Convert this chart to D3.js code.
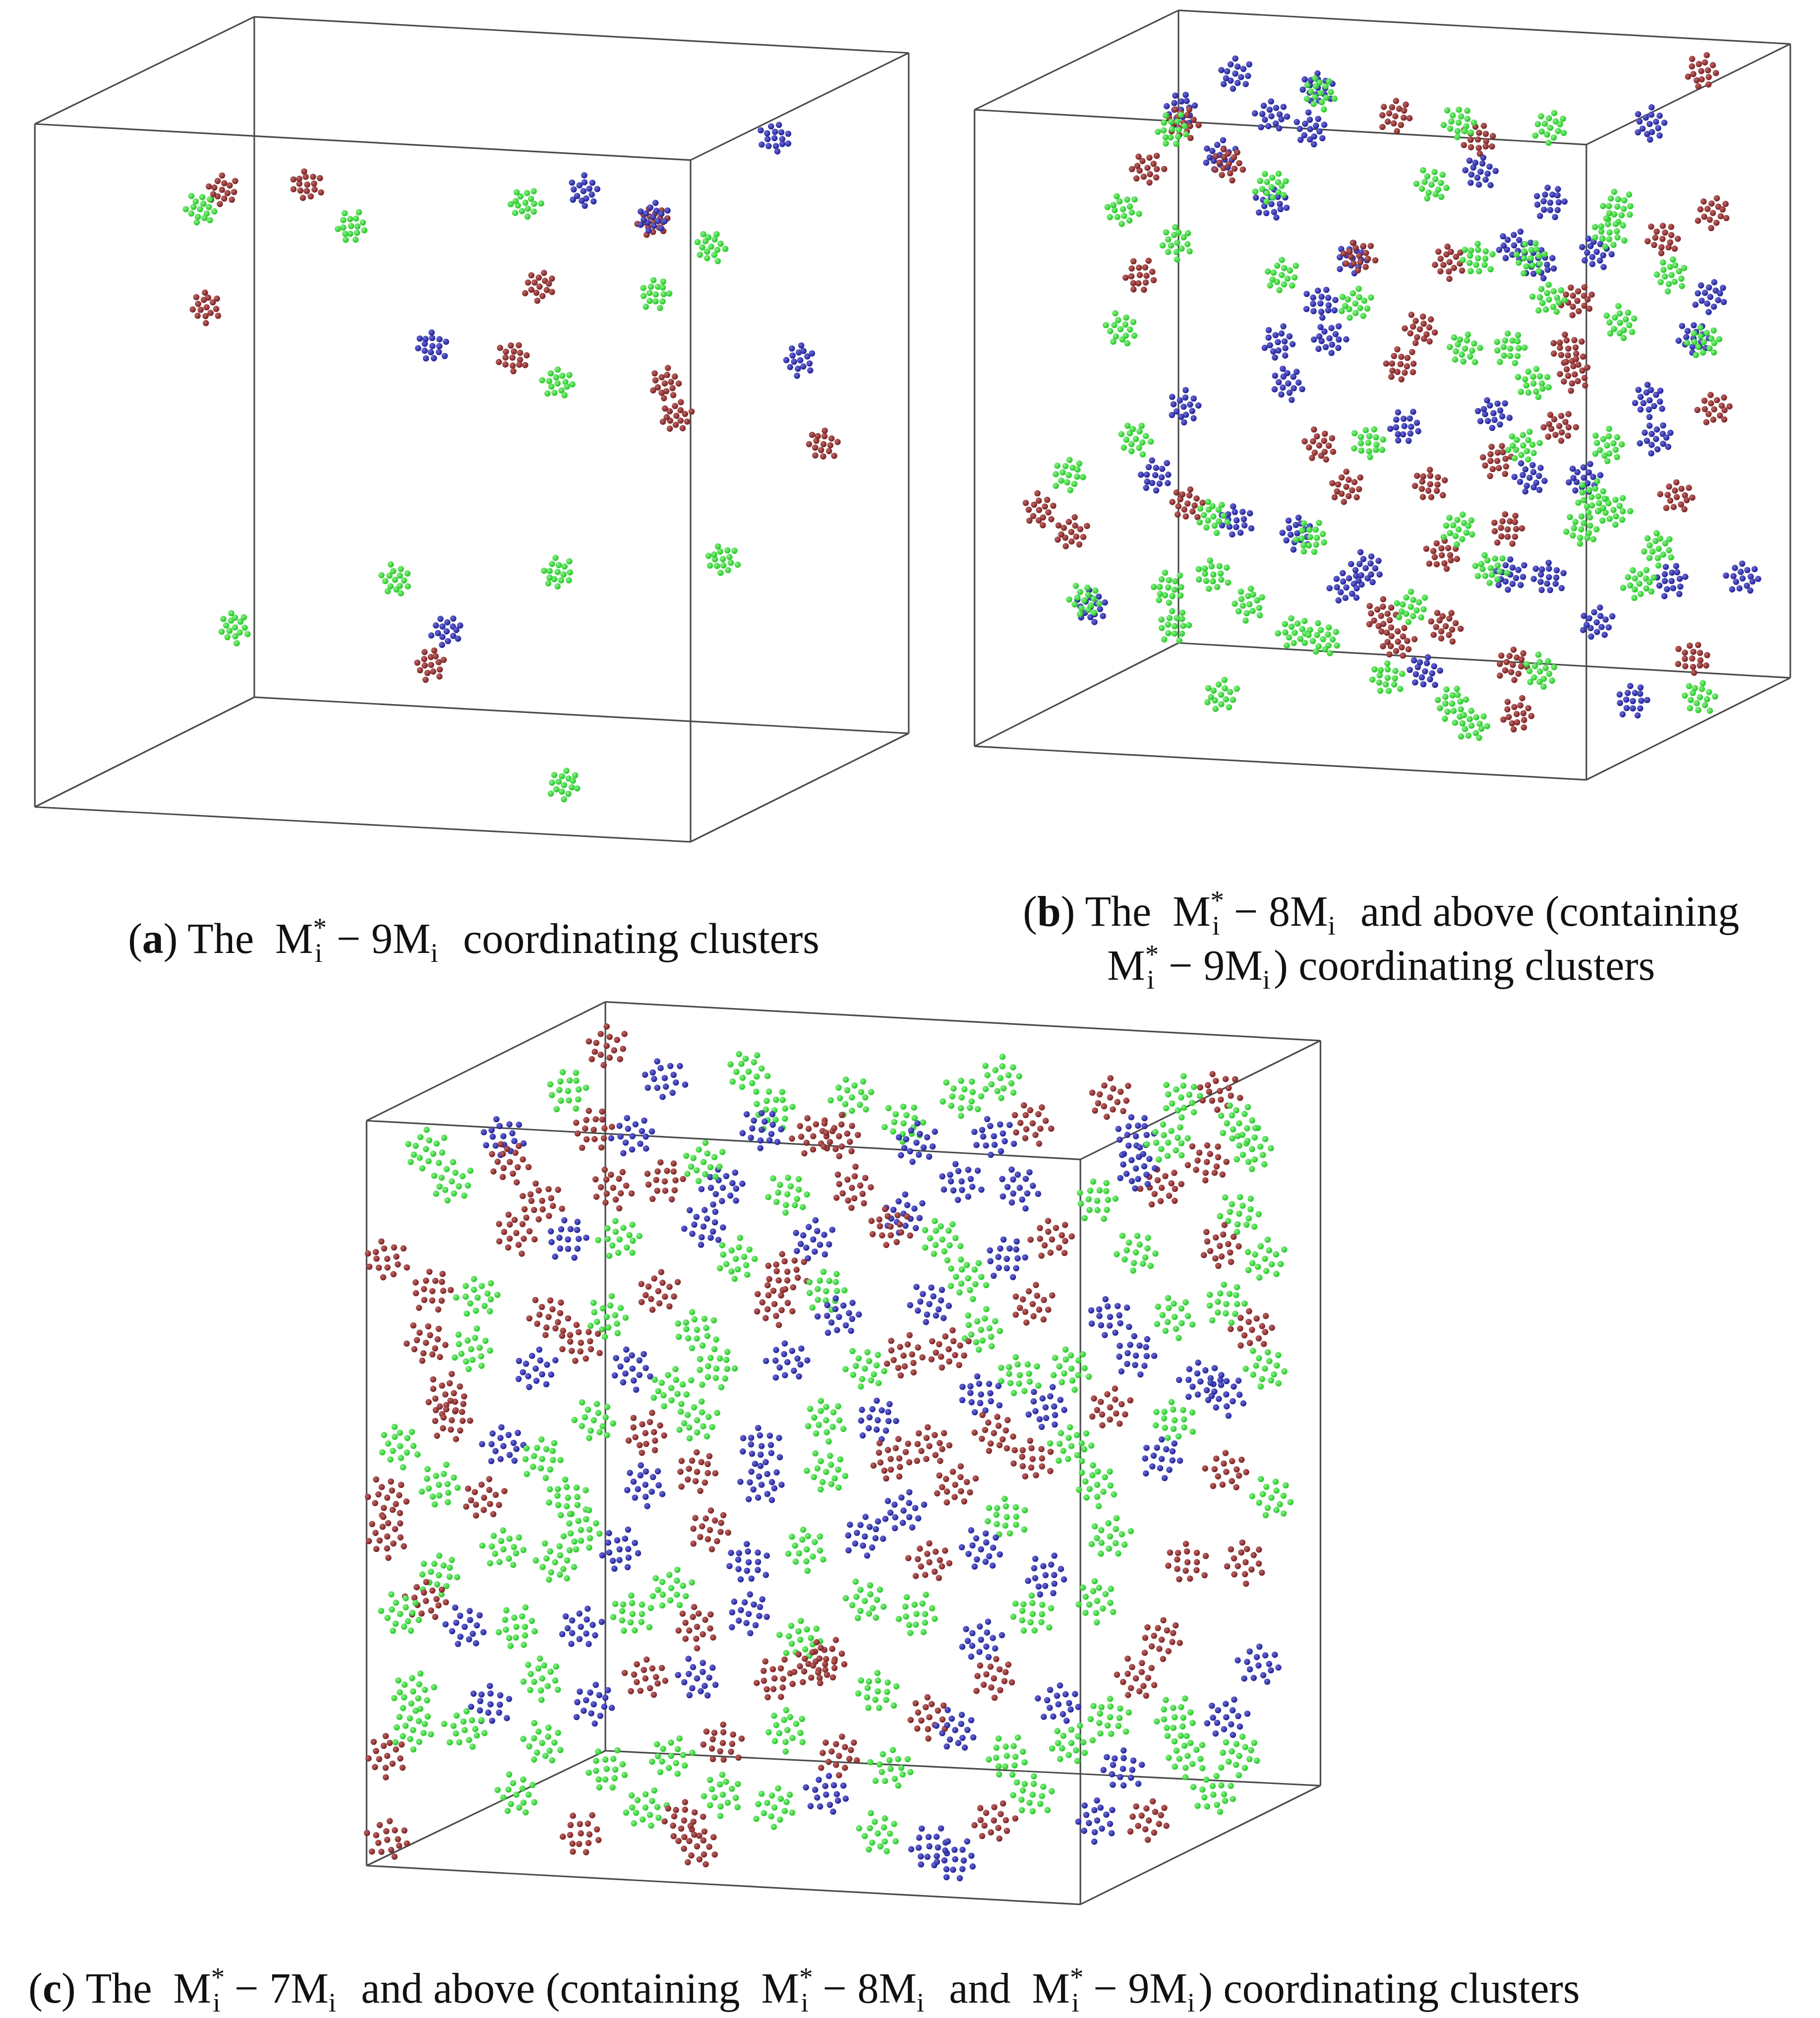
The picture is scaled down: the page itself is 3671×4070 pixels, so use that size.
<!DOCTYPE html>
<html>
<head>
<meta charset="utf-8">
<script src="https://cdn.jsdelivr.net/npm/d3@7"></script>
<style>
  body { margin: 0; background: #fff; }
  text { font-family: "Liberation Serif", "DejaVu Serif", serif; fill: #111; white-space: pre; }
</style>
</head>
<body>
<svg id="main" width="3671" height="4070"></svg>
<script>
// cluster centres (x, y in reference px, colour code)
var clustersA = [
  [172,147,'r'],[238,143,'r'],[160,238,'r'],[418,222,'r'],[397,277,'r'],[515,297,'r'],[524,322,'r'],[638,344,'r'],[334,515,'r'],[506,172,'r'],
  [155,162,'g'],[272,175,'g'],[407,157,'g'],[551,191,'g'],[508,228,'g'],[432,297,'g'],[306,449,'g'],[432,443,'g'],[560,433,'g'],[182,486,'g'],[437,608,'g'],
  [600,107,'b'],[452,148,'b'],[506,168,'b'],[335,268,'b'],[620,279,'b'],[346,489,'b']
];
var clustersB = [
  [957,57,'b'],[1021,68,'b'],[915,85,'b'],[985,90,'b'],[1015,100,'b'],[945,120,'b'],[1147,133,'b'],[1201,157,'b'],[985,158,'b'],[1278,96,'b'],
  [1173,190,'b'],[1237,195,'b'],[1048,200,'b'],[1023,235,'b'],[990,265,'b'],[1030,262,'b'],[998,297,'b'],[1325,230,'b'],[1312,262,'b'],[1088,330,'b'],
  [1157,320,'b'],[1278,310,'b'],[1283,340,'b'],[1185,370,'b'],[895,368,'b'],[958,403,'b'],[1005,413,'b'],[1043,455,'b'],[1058,440,'b'],[1170,445,'b'],
  [1200,447,'b'],[1295,450,'b'],[1350,448,'b'],[845,470,'b'],[1237,482,'b'],[1104,520,'b'],[1265,543,'b'],[1192,205,'b'],[917,315,'b'],[1227,370,'b'],
  [917,95,'r'],[1081,90,'r'],[1145,108,'r'],[1318,55,'r'],[889,130,'r'],[952,127,'r'],[1327,165,'r'],[1288,185,'r'],[883,213,'r'],[1053,198,'r'],
  [1123,203,'r'],[1222,233,'r'],[1100,255,'r'],[1085,282,'r'],[1215,270,'r'],[1220,290,'r'],[1328,317,'r'],[1022,345,'r'],[1043,377,'r'],[1108,375,'r'],
  [1160,357,'r'],[1299,385,'r'],[805,395,'r'],[830,412,'r'],[920,390,'r'],[1168,410,'r'],[1117,430,'r'],[1070,477,'r'],[1083,497,'r'],[1120,485,'r'],
  [1172,515,'r'],[1311,510,'r'],[1175,553,'r'],[1208,330,'r'],
  [1023,72,'g'],[1201,99,'g'],[1130,95,'g'],[908,100,'g'],[870,162,'g'],[912,188,'g'],[985,145,'g'],[1109,143,'g'],[1253,160,'g'],[1247,180,'g'],
  [1295,213,'g'],[1320,265,'g'],[868,255,'g'],[993,213,'g'],[1145,200,'g'],[1186,200,'g'],[1200,232,'g'],[1255,250,'g'],[1050,235,'g'],[1135,270,'g'],
  [1170,270,'g'],[1188,297,'g'],[1245,345,'g'],[1180,345,'g'],[880,340,'g'],[828,368,'g'],[1060,343,'g'],[1233,385,'g'],[1250,395,'g'],[940,400,'g'],
  [1130,410,'g'],[1225,410,'g'],[1015,416,'g'],[1155,440,'g'],[1285,425,'g'],[1270,452,'g'],[840,465,'g'],[905,455,'g'],[940,445,'g'],[968,468,'g'],
  [1003,490,'g'],[1025,495,'g'],[1093,470,'g'],[1075,525,'g'],[1125,545,'g'],[1140,562,'g'],[1193,520,'g'],[946,538,'g'],[1317,540,'g'],[910,485,'g']
];
var clustersC = [
  [470,810,'r'],[515,835,'b'],[580,830,'g'],[600,860,'g'],[660,850,'g'],[745,850,'g'],[775,835,'g'],[860,850,'r'],[945,845,'r'],[960,870,'g'],[440,845,'g'],[630,880,'r'],[700,870,'g'],[915,850,'g'],
  [330,890,'g'],[390,880,'b'],[395,900,'r'],[460,875,'r'],[490,880,'b'],[590,875,'b'],[650,880,'r'],[710,885,'b'],[770,880,'b'],[800,870,'r'],[880,880,'b'],[905,885,'g'],[935,900,'r'],[970,890,'g'],
  [350,915,'g'],[420,930,'r'],[475,920,'r'],[515,915,'r'],[560,920,'b'],[610,925,'g'],[660,920,'r'],[700,940,'b'],[745,915,'b'],[790,920,'b'],[850,930,'g'],[900,920,'r'],[960,940,'g'],[880,905,'b'],[545,900,'g'],
  [300,975,'r'],[400,955,'r'],[440,960,'b'],[480,960,'g'],[545,950,'b'],[570,975,'g'],[630,960,'b'],[690,950,'r'],[730,960,'g'],[780,975,'b'],[815,960,'r'],[880,970,'g'],[945,965,'r'],[980,975,'g'],[610,985,'r'],[750,990,'g'],
  [335,1000,'r'],[370,1005,'g'],[425,1020,'r'],[470,1020,'g'],[510,1000,'r'],[540,1030,'g'],[600,1010,'r'],[640,1000,'g'],[650,1020,'b'],[720,1010,'b'],[760,1030,'g'],[800,1010,'r'],[860,1020,'b'],[910,1020,'g'],[950,1010,'g'],[970,1030,'r'],[330,1040,'r'],
  [365,1045,'g'],[415,1060,'b'],[450,1040,'r'],[490,1060,'b'],[555,1060,'g'],[610,1055,'b'],[670,1060,'g'],[700,1050,'r'],[735,1045,'r'],[790,1065,'g'],[830,1060,'g'],[880,1050,'b'],[930,1070,'b'],[980,1060,'g'],[345,1080,'r'],[520,1075,'g'],[760,1080,'b'],
  [310,1120,'g'],[350,1100,'r'],[390,1120,'b'],[460,1100,'g'],[500,1110,'r'],[540,1100,'g'],[590,1120,'b'],[640,1100,'g'],[680,1100,'b'],[720,1120,'r'],[770,1110,'r'],[810,1090,'b'],[860,1090,'r'],[910,1100,'g'],[950,1080,'b'],[420,1130,'g'],[830,1120,'g'],
  [300,1160,'r'],[340,1150,'g'],[375,1160,'r'],[440,1160,'g'],[500,1150,'b'],[540,1140,'r'],[590,1150,'b'],[640,1140,'g'],[690,1130,'r'],[740,1150,'r'],[800,1130,'r'],[850,1150,'g'],[900,1130,'b'],[950,1140,'r'],[985,1160,'g'],[450,1185,'g'],[700,1170,'b'],[780,1175,'g'],
  [300,1190,'r'],[340,1220,'g'],[390,1200,'g'],[430,1210,'g'],[480,1200,'b'],[520,1230,'g'],[580,1210,'b'],[625,1200,'g'],[670,1190,'b'],[720,1210,'r'],[760,1200,'b'],[810,1220,'b'],[860,1190,'g'],[920,1210,'r'],[965,1210,'r'],[550,1185,'r'],
  [330,1240,'r'],[360,1260,'b'],[400,1260,'g'],[450,1260,'b'],[490,1250,'g'],[540,1260,'r'],[580,1250,'b'],[620,1270,'g'],[670,1240,'g'],[710,1250,'g'],[760,1270,'b'],[800,1250,'g'],[850,1240,'g'],[900,1270,'r'],[975,1290,'b'],[310,1250,'g'],[640,1285,'r'],
  [320,1310,'g'],[380,1320,'b'],[420,1300,'g'],[460,1320,'b'],[500,1300,'r'],[540,1300,'b'],[600,1300,'r'],[630,1290,'r'],[680,1310,'g'],[720,1330,'r'],[770,1300,'r'],[820,1320,'b'],[880,1300,'r'],[910,1330,'g'],[950,1330,'b'],[860,1330,'g'],
  [300,1360,'r'],[320,1340,'g'],[360,1340,'g'],[420,1350,'g'],[470,1370,'g'],[520,1360,'g'],[560,1350,'r'],[610,1340,'g'],[650,1360,'r'],[690,1370,'g'],[740,1340,'b'],[780,1360,'g'],[830,1350,'g'],[870,1370,'b'],[920,1360,'g'],[960,1360,'g'],
  [300,1425,'r'],[400,1390,'g'],[450,1420,'r'],[500,1400,'g'],[530,1410,'r'],[560,1390,'g'],[600,1400,'g'],[640,1390,'b'],[680,1420,'g'],[720,1430,'b'],[770,1410,'r'],[800,1390,'g'],[850,1410,'b'],[890,1410,'r'],[940,1390,'g'],[540,1430,'r'],[740,1440,'b']
];
// atom offsets inside one coordinating cluster (reference px)
var clusterShape = [[0,0],[-7,-2],[-4,-8],[2,-6],[7,-4],[5,3],[2,8],[-4,6],[-8,4],[-12,-3],[11,2],[0,-13],[-2,13],[9,9],[-10,9],[12,-8]];

// cube corners: front TL, TR, BR, BL then back TL, TR, BR, BL
var cubeA = [[27,96],[535,124],[535,652],[27,625],[197,13],[704,41],[704,568],[197,540]];
var cubeB = [[755,85],[1229,112],[1229,604],[755,578],[913,8],[1387,34],[1387,525],[913,498]];
var cubeC = [[284,868],[837,898],[837,1475],[284,1445],[469,776],[1023,806],[1023,1383],[469,1356]];
var edges = [[0,1],[1,2],[2,3],[3,0],[4,5],[5,6],[6,7],[7,4],[0,4],[1,5],[2,6],[3,7]];

var colors = { r: ['#c06a6a','#7a1f1f'], g: ['#8ff08f','#22c822'], b: ['#6f6fd8','#1f1f96'] };

var sx = d3.scaleLinear().domain([0, 1410]).range([0, 3671]);
var sy = d3.scaleLinear().domain([0, 1563]).range([0, 4070]);

var svg = d3.select('#main');
var defs = svg.append('defs');
Object.keys(colors).forEach(function(k){
  var g = defs.append('radialGradient').attr('id', 'ball-' + k)
    .attr('cx', '35%').attr('cy', '35%').attr('r', '65%');
  g.append('stop').attr('offset', '0%').attr('stop-color', colors[k][0]);
  g.append('stop').attr('offset', '100%').attr('stop-color', colors[k][1]);
});

function drawPanel(cube, clusters, rot, size) {
  var g = svg.append('g');
  g.selectAll('line').data(edges).enter().append('line')
    .attr('x1', function(e){ return sx(cube[e[0]][0]); })
    .attr('y1', function(e){ return sy(cube[e[0]][1]); })
    .attr('x2', function(e){ return sx(cube[e[1]][0]); })
    .attr('y2', function(e){ return sy(cube[e[1]][1]); })
    .attr('stroke', '#4a4a4a').attr('stroke-width', 3.2);

  var atoms = [];
  clusters.forEach(function(c, i){
    var a = (i * rot) % 6.283;
    var ca = Math.cos(a), sa = Math.sin(a);
    clusterShape.forEach(function(o){
      atoms.push({ x: c[0] + size*(o[0]*ca - o[1]*sa), y: c[1] + size*(o[0]*sa + o[1]*ca), k: c[2] });
    });
  });
  g.selectAll('circle').data(atoms).enter().append('circle')
    .attr('cx', function(d){ return sx(d.x); })
    .attr('cy', function(d){ return sy(d.y); })
    .attr('r', 6.3)
    .attr('fill', function(d){ return 'url(#ball-' + d.k + ')'; });
}

drawPanel(cubeA, clustersA, 1.1, 0.85);
drawPanel(cubeB, clustersB, 1.3, 0.9);
drawPanel(cubeC, clustersC, 0.9, 1.15);

// caption helper: parts are [text, kind]
function caption(x, y, anchor, parts) {
  var t = svg.append('text').attr('x', sx(x)).attr('y', sy(y))
    .attr('font-size', 86).attr('text-anchor', anchor);
  parts.forEach(function(p){
    var s = t.append('tspan').text(p[0]);
    if (p[1] == 'b') s.attr('font-weight', 'bold');
    if (p[1] == 'Mi*') {
      s.text('M');
      t.append('tspan').text('*').attr('font-size', 55).attr('dy', -33);
      t.append('tspan').text('i').attr('font-size', 55).attr('dx', -24).attr('dy', 51);
      t.append('tspan').text('\u200a').attr('dy', -18);
    }
    if (p[1] == 'Mi') {
      s.text('M');
      t.append('tspan').text('i').attr('font-size', 55).attr('dy', 18);
      t.append('tspan').text('\u200a').attr('dy', -18);
    }
  });
}

caption(367, 738, 'middle', [['(', 'n'], ['a', 'b'], [') The  ', 'n'], ['', 'Mi*'], [' \u2212 9', 'n'], ['', 'Mi'], ['  coordinating clusters', 'n']]);
caption(1070, 717, 'middle', [['(', 'n'], ['b', 'b'], [') The  ', 'n'], ['', 'Mi*'], [' \u2212 8', 'n'], ['', 'Mi'], ['  and above (containing', 'n']]);
caption(1070, 759, 'middle', [['', 'Mi*'], [' \u2212 9', 'n'], ['', 'Mi'], [') coordinating clusters', 'n']]);
caption(22, 1551, 'start', [['(', 'n'], ['c', 'b'], [') The  ', 'n'], ['', 'Mi*'], [' \u2212 7', 'n'], ['', 'Mi'], ['  and above (containing  ', 'n'], ['', 'Mi*'], [' \u2212 8', 'n'], ['', 'Mi'], ['  and  ', 'n'], ['', 'Mi*'], [' \u2212 9', 'n'], ['', 'Mi'], [') coordinating clusters', 'n']]);
</script>
</body>
</html>
